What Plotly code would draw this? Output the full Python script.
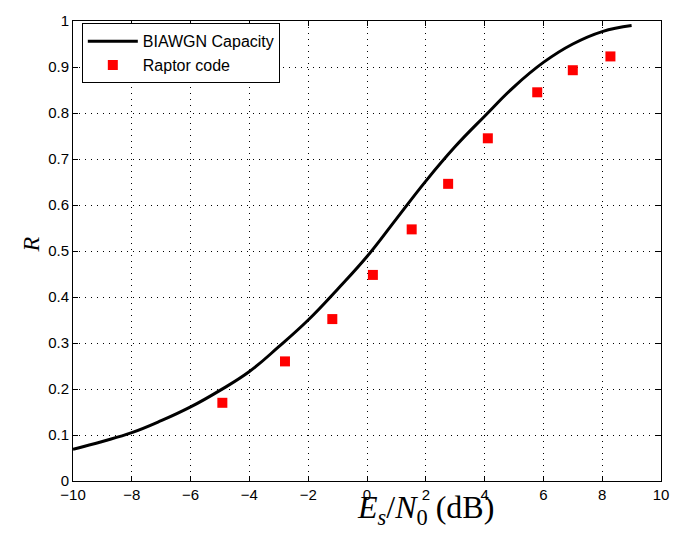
import plotly.graph_objects as go

# BIAWGN capacity curve
cap_x = [-10, -9, -8, -7, -6, -5, -4, -3, -2, -1, 0, 1, 2, 3, 4, 5, 6, 7, 8, 9]
cap_y = [0.069, 0.086, 0.105, 0.131, 0.161, 0.197, 0.238, 0.292, 0.350, 0.417,
         0.488, 0.570, 0.652, 0.727, 0.793, 0.857, 0.910, 0.950, 0.977, 0.990]

# Raptor code points
rap_x = [-4.92, -2.79, -1.18, 0.20, 1.52, 2.76, 4.11, 5.79, 7.00, 8.28]
rap_y = [0.170, 0.260, 0.352, 0.448, 0.547, 0.646, 0.745, 0.845, 0.893, 0.923]

x_ticks = [-10, -8, -6, -4, -2, 0, 2, 4, 6, 8, 10]
y_ticks = [0, 0.1, 0.2, 0.3, 0.4, 0.5, 0.6, 0.7, 0.8, 0.9, 1]
y_tick_text = ["0", "0.1", "0.2", "0.3", "0.4", "0.5", "0.6", "0.7", "0.8", "0.9", "1"]

fig = go.Figure()
fig.add_trace(go.Scatter(x=cap_x, y=cap_y, mode="lines", name="BIAWGN Capacity",
                         line=dict(color="black", width=3, shape="spline", smoothing=1.2)))
fig.add_trace(go.Scatter(x=rap_x, y=rap_y, mode="markers", name="Raptor code",
                         marker=dict(color="red", symbol="square", size=10,
                                     line=dict(width=0))))

axis_common = dict(
    showline=True, linecolor="black", linewidth=1, mirror="ticks",
    ticks="inside", ticklen=5, tickcolor="black",
    showgrid=True, gridcolor="black", gridwidth=1, griddash="1px,5px",
    zeroline=False,
    tickfont=dict(family="Liberation Sans, Arial", size=15, color="black"),
)

fig.update_xaxes(range=[-10, 10], tickvals=x_ticks, **axis_common)
fig.update_yaxes(range=[0, 1], tickvals=y_ticks, ticktext=y_tick_text, **axis_common)

fig.update_layout(
    width=681, height=534,
    margin=dict(l=73, r=14, t=15, b=53),
    paper_bgcolor="white", plot_bgcolor="white",
    showlegend=True,
    legend=dict(x=0.015, y=0.995, xanchor="left", yanchor="top",
                bgcolor="white", bordercolor="black", borderwidth=1,
                font=dict(family="Liberation Sans, Arial", size=16, color="black"),
                tracegroupgap=0, itemwidth=50),
    annotations=[
        dict(text="<i>E<sub>s</sub></i>/<i>N</i><sub>0</sub> (dB)", xref="paper", yref="paper",
             x=0.599, y=-0.062, xanchor="center", yanchor="middle", showarrow=False,
             font=dict(family="Liberation Serif, serif", size=32, color="black")),
        dict(text="<i>R</i>", xref="paper", yref="paper", textangle=-90,
             x=-0.0707, y=0.515, xanchor="center", yanchor="middle", showarrow=False,
             font=dict(family="Liberation Serif, serif", size=24, color="black")),
    ],
)

fig.write_html("out.html", config={"displayModeBar": False},
               post_script="document.body.style.margin='0';")
